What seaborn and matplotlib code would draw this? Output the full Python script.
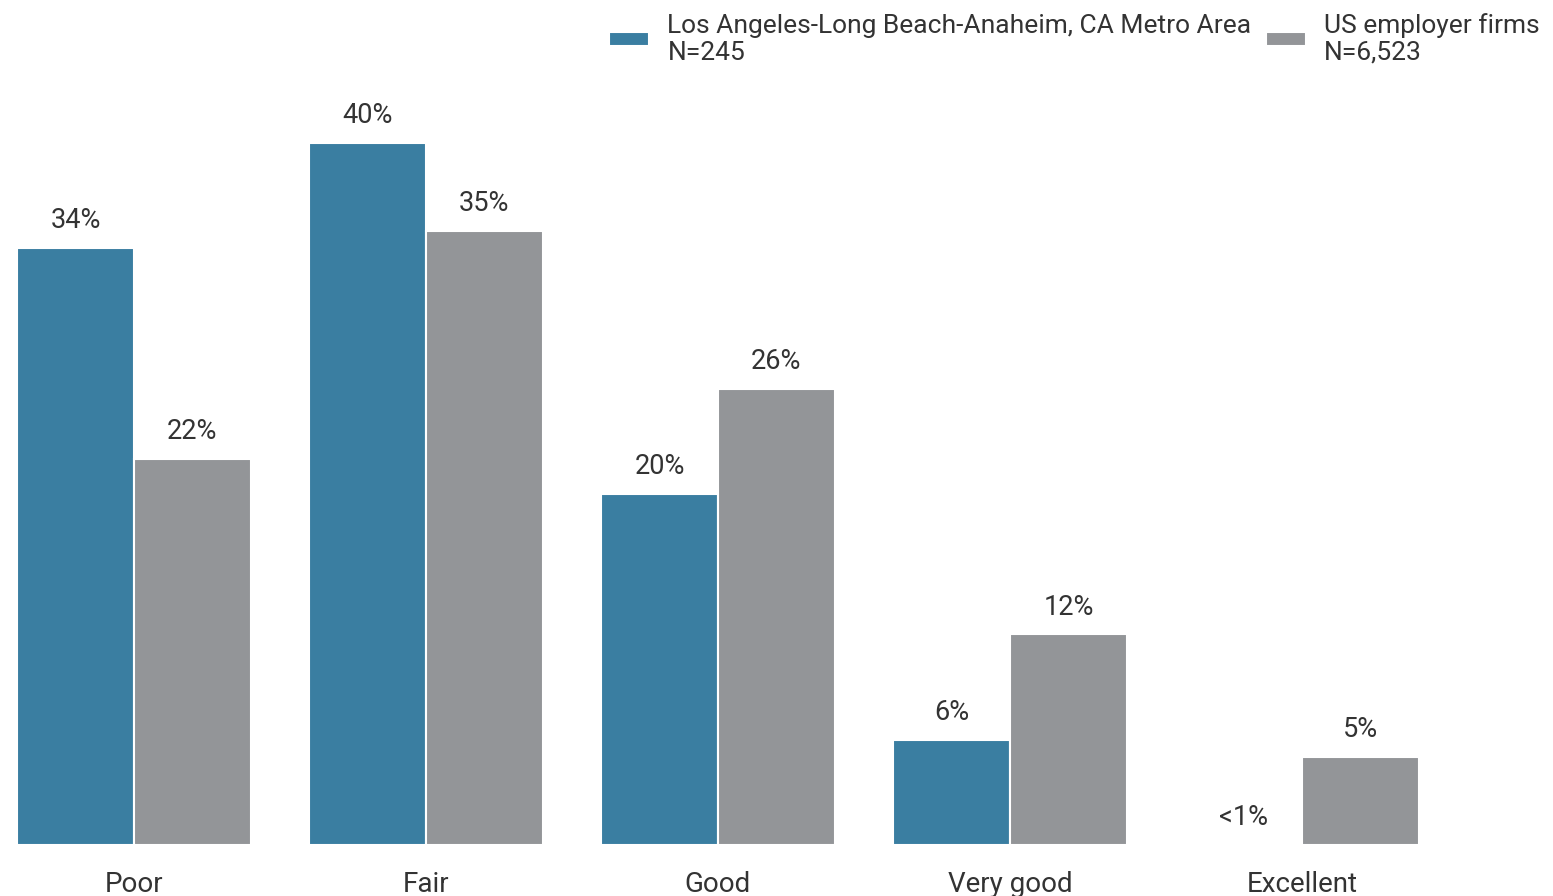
import pandas as pd
import matplotlib.pyplot as plt
import seaborn as sns

# Data
categories = ['Poor', 'Fair', 'Good', 'Very good', 'Excellent']
la_values = [34, 40, 20, 6, 0]
us_values = [22, 35, 26, 12, 5]
la_labels = ['34%', '40%', '20%', '6%', '<1%']
us_labels = ['22%', '35%', '26%', '12%', '5%']
series_names = ['Los Angeles-Long Beach-Anaheim, CA Metro Area\nN=245',
                'US employer firms\nN=6,523']
colors = ['#3a7ea1', '#939598']

df = pd.DataFrame({
    'category': categories * 2,
    'value': la_values + us_values,
    'series': [series_names[0]] * len(categories) + [series_names[1]] * len(categories),
})

sns.set_style('white')
plt.rcParams['font.family'] = ['Roboto', 'DejaVu Sans']
text_color = '#333333'

fig = plt.figure(figsize=(15.53, 8.96), dpi=100)
ax = fig.add_axes([0, 51 / 896, 1, 845 / 896])

sns.barplot(data=df, x='category', y='value', hue='series', order=categories,
            hue_order=series_names, palette=colors, width=0.8, saturation=1,
            edgecolor='white', linewidth=1.5, ax=ax)

# value labels
for container, labels in zip(ax.containers, [la_labels, us_labels]):
    ax.bar_label(container, labels=labels, padding=10, fontsize=19.5, color=text_color)

ax.set_xlim(-134 / 292, (1553 - 134) / 292)
ax.set_ylim(0, 845 / 17.55)
ax.set_xlabel('')
ax.set_ylabel('')
ax.set_yticks([])
ax.tick_params(axis='x', length=0, pad=19, labelsize=20, labelcolor=text_color)
sns.despine(ax=ax, left=True, bottom=True)

leg = ax.legend(loc='upper right', bbox_to_anchor=(1.0, 1.0), ncol=2, frameon=False,
                fontsize=19, handlelength=1.5, handleheight=0.45, columnspacing=0.55,
                handletextpad=0.7, borderaxespad=0.1, labelcolor=text_color)
for t in leg.get_texts():
    t.set_linespacing(1.15)

plt.savefig('out.png', dpi=100)
plt.close()
